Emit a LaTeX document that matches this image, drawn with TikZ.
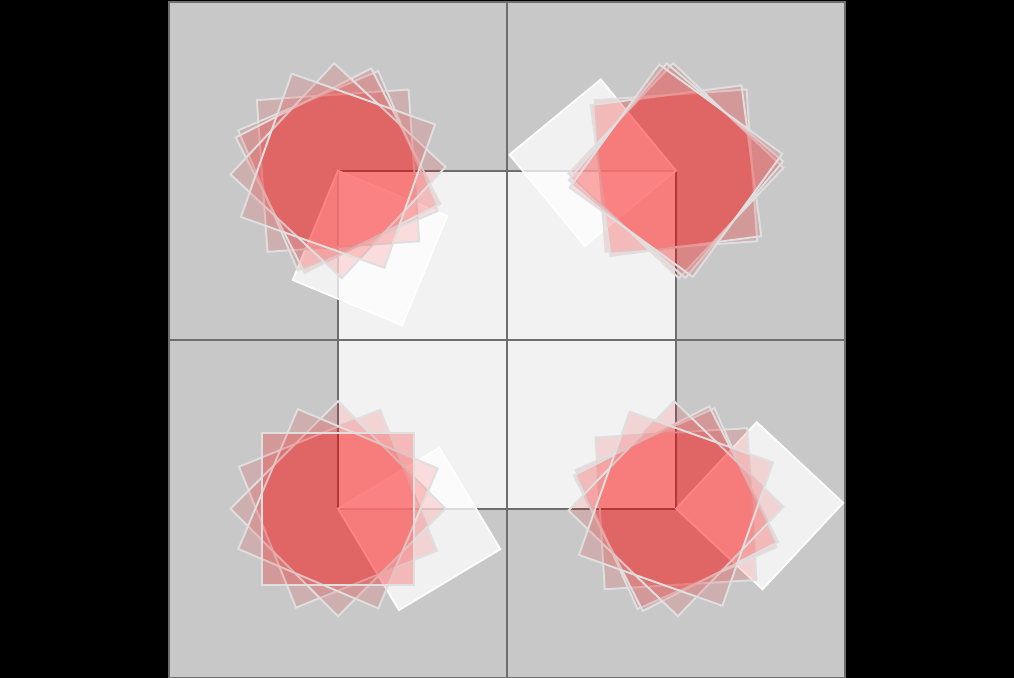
\documentclass[tikz,border=0pt]{standalone}
\usepackage{xcolor}
\usepackage{tikz}
\definecolor{tilegray}{HTML}{C8C8C8}
\definecolor{innergray}{HTML}{F2F2F2}
\definecolor{edgegray}{HTML}{6E6E6E}
\tikzset{
  tile/.style={fill=tilegray, draw=edgegray, line width=0.7pt},
  innersq/.style={fill=innergray, draw=edgegray, line width=0.7pt},
  gridln/.style={draw=edgegray, line width=0.7pt},
  redsq/.style={fill=red, fill opacity=0.12, draw=gray!25, draw opacity=1,
                line width=0.65pt, line join=miter},
  whitesq/.style={fill=white, fill opacity=0.75, draw=white, draw opacity=1,
                  line width=0.6pt}
}

\begin{document}
\begin{tikzpicture}[x=2cm, y=2cm]
  % frame
  \fill[black] (-3,-2) rectangle (3,2.01);
  \useasboundingbox (-3,-2) rectangle (3,2.01);
  \draw[tile] (-2,-2) rectangle (2,2);
  \draw[innersq] (-1,-1) rectangle (1,1);
  \draw[gridln] (0,-2) -- (0,2);
  \draw[gridln] (-2,0) -- (2,0);

  \coordinate (tl) at (-1,1);
  \coordinate (tr) at (1,1);
  \coordinate (bl) at (-1,-1);
  \coordinate (br) at (1,-1);

  % one white square on each corner, then the red squares round it
  \foreach \c/\w/\angs in {tl/-112.5/{4,23,27,47,70.5},
                           tr/129.5/{4,7.5,46.5,50,54},
                           bl/-59/{0,22,45,67,90},
                           br/-43/{3.5,24,27,46,70.5}} {
    \draw[whitesq, shift={(\c)}, rotate=\w]
      (0,0) -- (0.7,0) -- (0.7,0.7) -- (0,0.7) -- cycle;
    \foreach \a in \angs
      \draw[redsq, shift={(\c)}, rotate=\a]
        (-0.45,-0.45) -- (0.45,-0.45) -- (0.45,0.45) -- (-0.45,0.45) -- cycle;
  }
\end{tikzpicture}
\end{document}
